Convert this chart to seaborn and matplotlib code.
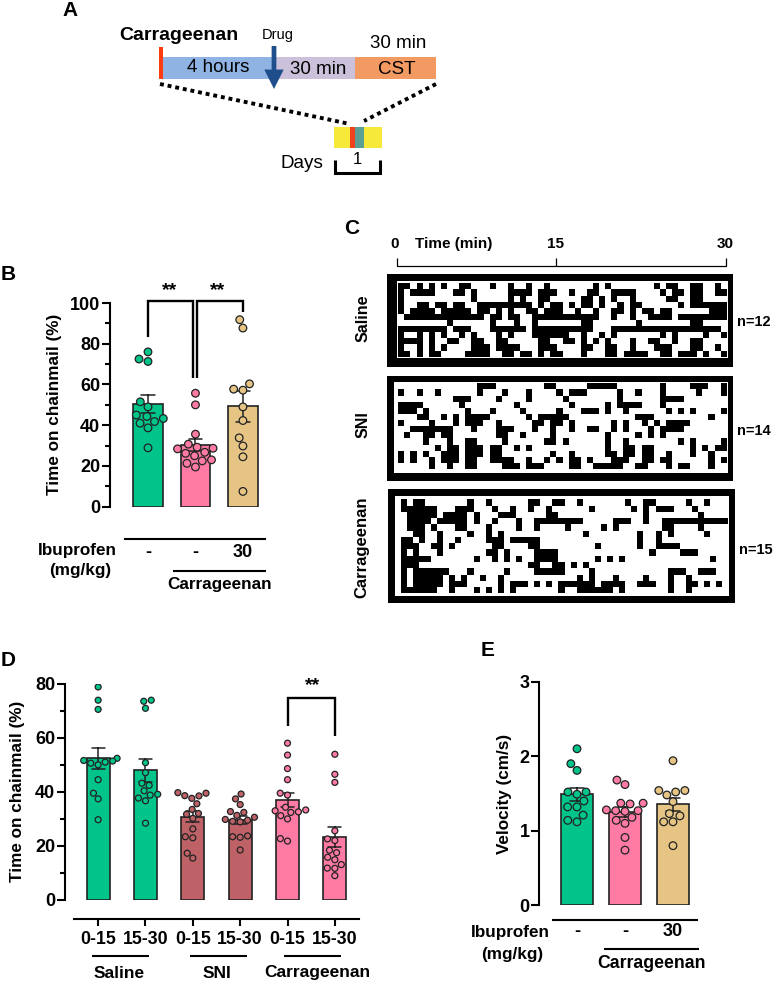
import numpy as np
import pandas as pd
import matplotlib
matplotlib.use('Agg')
import matplotlib.pyplot as plt
from matplotlib.patches import Rectangle
from matplotlib.ticker import MultipleLocator
import seaborn as sns

W, H = 775, 985

GREEN = '#00C48A'
PINK = '#FF7BA4'
TAN = '#E6C584'
BROWN = '#BE6268'
DARK = '#222222'

# panel B, time on chainmail (%)
b_groups = ['Saline', 'SNI', 'Ibu30']
b_ticks = ['-', '-', '30']
b_saline = [76, 72.5, 71.3, 51.5, 49, 45, 44.3, 43.3, 41.8, 41, 38.7, 28.9]
b_sni = [55.7, 50, 35.6, 30.7, 29.2, 28.7, 28.4, 26.7, 26.2, 25, 23, 22.5, 21.3, 19.5]
b_ibu = [91.8, 87.7, 60.3, 57.7, 57.2, 49, 42.3, 33.8, 29.8, 24.5, 7.5]

# panel D, time on chainmail (%) by period
d_groups = ['Sal1', 'Sal2', 'SNI1', 'SNI2', 'Car1', 'Car2']
d_ticks = ['0-15', '15-30', '0-15', '15-30', '0-15', '15-30']
d_sal1 = [78.8, 73.9, 70.5, 52.4, 51.6, 51.4, 51, 50.6, 50, 44.5, 39.5, 37.4, 29.7]
d_sal2 = [73.9, 73.5, 70.9, 50.8, 47.1, 43.2, 42.4, 40.4, 39.1, 38.8, 37.7, 36.7, 28.4]
d_sni1 = [39.7, 39.5, 38.6, 38.5, 37.6, 35.6, 33.5, 32, 31.7, 30.2, 26.3, 23.4, 23, 17.3, 15.5]
d_sni2 = [39.2, 37.4, 35.3, 32.7, 32.4, 31.3, 30.6, 29.8, 29.5, 29.1, 28.9, 23.7, 23.4, 23.2, 18.5]
d_car1 = [58, 53.6, 48.6, 44.5, 39.5, 38.8, 34.3, 33.3, 33, 32.6, 32.4, 31.2, 30, 22.7, 21.8]
d_car2 = [53.9, 46.5, 43.5, 25.6, 22.6, 22, 18.4, 17.5, 15.8, 14.9, 13.1, 11.8, 11.7, 9]

# panel E, velocity (cm/s)
e_saline = [2.10, 1.90, 1.81, 1.52, 1.52, 1.49, 1.40, 1.32, 1.32, 1.21, 1.14, 1.12]
e_sni = [1.68, 1.62, 1.37, 1.37, 1.36, 1.28, 1.27, 1.27, 1.26, 1.18, 1.14, 1.10, 0.91, 0.74]
e_ibu = [1.94, 1.54, 1.54, 1.52, 1.48, 1.39, 1.23, 1.20, 1.12, 1.12, 0.80]

# panel C, time bins spent on chainmail per animal
n_bins = 54
raster_saline = [
    [0, 1, 3, 5, 7, 10, 11, 15, 18, 21, 24, 32, 34, 42, 44, 45, 48, 49, 52],
    [0, 2, 3, 4, 5, 9, 10, 12, 18, 19, 20, 21, 23, 24, 25, 28, 31, 32, 35, 36, 37, 38, 43, 45, 46, 48, 49, 52, 53],
    [0, 12, 18, 20, 23, 24, 30, 31, 33, 35, 38, 44, 45, 48, 49],
    [0, 3, 4, 6, 7, 9, 10, 13, 14, 15, 16, 17, 18, 19, 20, 21, 23, 25, 26, 28, 30, 31, 33, 36, 38, 39, 46, 48, 49, 50, 51, 52, 53],
    [0, 2, 3, 4, 5, 7, 8, 9, 10, 11, 13, 14, 16, 18, 21, 22, 24, 25, 26, 29, 32, 35, 36, 38, 40, 41, 43, 44, 51, 52, 53],
    [1, 2, 3, 4, 5, 6, 7, 8, 9, 10, 11, 12, 13, 15, 16, 18, 19, 22, 23, 24, 25, 26, 27, 28, 29, 30, 31, 32, 35, 38, 41, 42, 43, 44, 46, 47, 48, 49, 50, 51, 52, 53],
    [8, 15, 19, 22, 30, 31, 39, 48, 49],
    [0, 1, 2, 3, 4, 5, 6, 7, 9, 10, 11, 15, 16, 17, 18, 19, 20, 22, 23, 24, 25, 26, 27, 28, 29, 30, 31, 35, 36, 37, 38, 39, 40, 41, 42, 43, 44, 45, 46, 47, 48, 49, 50, 51, 52],
    [0, 3, 5, 7, 10, 12, 16, 18, 22, 23, 24, 25, 26, 27, 30, 33, 35, 43, 45, 50, 53],
    [0, 1, 2, 3, 5, 8, 9, 12, 13, 16, 17, 23, 24, 27, 28, 30, 32, 34, 38, 41, 42, 45, 48, 49],
    [0, 3, 5, 7, 12, 13, 14, 16, 17, 18, 19, 23, 24, 25, 30, 31, 34, 35, 38, 42, 43, 44, 48, 49, 52],
    [0, 1, 3, 5, 6, 11, 12, 13, 14, 17, 18, 20, 21, 23, 25, 26, 30, 34, 35, 37, 38, 39, 40, 43, 44, 46, 47, 48, 50, 53],
]
raster_sni = [
    [13, 14, 15, 24, 25, 31, 32, 33, 34, 35, 43, 48, 49, 50, 53],
    [0, 3, 6, 13, 17, 21, 26, 28, 29, 30, 36, 39, 43, 49, 53],
    [9, 10, 11, 16, 21, 27, 36, 43, 44, 45, 46],
    [0, 1, 2, 3, 10, 19, 28, 34, 36, 37, 38, 39, 43],
    [0, 1, 2, 4, 11, 15, 20, 26, 30, 31, 32, 34, 37, 44, 46, 48, 53],
    [3, 4, 7, 9, 11, 12, 13, 14, 21, 23, 24, 25, 26, 27, 39, 40, 41, 51],
    [0, 5, 9, 11, 12, 13, 16, 22, 23, 25, 26, 28, 35, 37, 40, 42, 44, 45, 46, 47],
    [2, 3, 4, 5, 6, 7, 8, 12, 16, 17, 18, 22, 25, 28, 31, 32, 35, 37, 41, 43, 44, 45, 46],
    [1, 4, 5, 7, 8, 16, 17, 20, 25, 34, 39, 41, 43],
    [4, 8, 11, 12, 17, 24, 25, 27, 34, 37, 46, 48, 53],
    [6, 8, 9, 11, 12, 13, 15, 16, 19, 21, 34, 37, 38, 40, 41, 48, 50, 52, 53],
    [0, 2, 4, 7, 8, 9, 11, 12, 13, 15, 16, 25, 28, 34, 35, 37, 38, 40, 41, 44, 48, 51],
    [0, 2, 5, 7, 8, 9, 11, 12, 15, 16, 17, 18, 21, 24, 26, 28, 29, 31, 35, 36, 37, 40, 41, 43, 44, 51, 53],
    [5, 8, 11, 12, 17, 18, 19, 21, 22, 23, 28, 29, 32, 33, 34, 35, 36, 39, 40, 44, 46, 47, 51],
]
raster_car = [
    [0, 2, 3, 11, 14, 21, 22, 25, 26, 29, 37, 40, 41, 47, 50],
    [0, 1, 2, 3, 4, 5, 9, 10, 11, 15, 18, 21, 24, 31, 38, 40, 42, 43, 44, 48],
    [1, 2, 3, 4, 5, 7, 8, 9, 10, 12, 16, 17, 18, 24, 25, 40, 49],
    [1, 2, 3, 4, 6, 7, 8, 9, 10, 12, 15, 19, 22, 23, 24, 25, 26, 27, 28, 29, 35, 36, 37, 40, 43, 44, 45, 46, 47, 48, 49, 50, 51, 52, 53],
    [1, 2, 3, 5, 9, 10, 14, 19, 22, 27, 33, 35, 43, 44, 49],
    [2, 3, 6, 11, 14, 16, 30, 39, 42, 44, 50],
    [0, 1, 3, 6, 9, 14, 15, 16, 18, 19, 20, 21, 22, 39, 42],
    [0, 1, 2, 5, 6, 8, 15, 16, 21, 22, 32, 39, 42, 43, 44, 45],
    [0, 2, 6, 14, 15, 17, 22, 23, 24, 25, 41, 46, 47, 48],
    [0, 1, 2, 3, 4, 12, 15, 17, 19, 22, 23, 24, 25, 32, 34, 36, 51],
    [0, 1, 2, 21, 22, 25, 26, 28, 30],
    [0, 2, 3, 4, 5, 6, 7, 11, 17, 22, 23, 24, 25, 26, 31, 44, 45, 46, 49, 50, 51],
    [0, 2, 3, 4, 5, 6, 8, 10, 13, 16, 29, 31, 35, 40, 44, 47],
    [0, 2, 3, 4, 5, 6, 8, 9, 10, 16, 18, 19, 20, 22, 24, 26, 27, 28, 29, 30, 31, 33, 34, 35, 36, 39, 40, 41, 44, 47, 48, 50, 52],
    [0, 1, 2, 3, 4, 5, 8, 12, 14, 16, 18, 26, 29, 30, 31, 32, 33, 34, 36, 44, 47],
]

sns.set_theme(style='ticks')
plt.rcParams['font.family'] = ['Liberation Sans', 'DejaVu Sans']
plt.rcParams['font.weight'] = 'bold'
plt.rcParams['axes.labelweight'] = 'bold'
plt.rcParams['axes.edgecolor'] = 'black'
plt.rcParams['xtick.color'] = 'black'
plt.rcParams['ytick.color'] = 'black'
plt.rcParams['text.color'] = 'black'
plt.rcParams['axes.labelcolor'] = 'black'


def box(left, top, right, bottom):
    # pixel box of the reference -> figure fraction
    return [left / W, 1 - bottom / H, (right - left) / W, (bottom - top) / H]


def long_table(names, columns):
    rows = [(n, v) for n, col in zip(names, columns) for v in col]
    return pd.DataFrame(rows, columns=['group', 'value'])


def bar_panel(rect, df, order, colors, xlim, ylim, width, dot, ylabel, label_x):
    ax = fig.add_axes(box(*rect))
    ax.patch.set_visible(False)
    sns.barplot(data=df, x='group', y='value', hue='group', order=order, hue_order=order,
                palette=colors, saturation=1, legend=False, errorbar='se', capsize=0.28, width=width,
                edgecolor=DARK, linewidth=1.2, ax=ax,
                err_kws={'color': DARK, 'linewidth': 1.1})
    sns.swarmplot(data=df, x='group', y='value', hue='group', order=order, hue_order=order,
                  palette=colors, legend=False, size=dot, edgecolor=DARK, linewidth=0.9, ax=ax)
    ax.set_xlim(*xlim)
    ax.set_ylim(*ylim)
    ax.set_xlabel('')
    ax.set_ylabel(ylabel, fontsize=12.3)
    ax.yaxis.set_label_coords((label_x - rect[0]) / (rect[2] - rect[0]), 0.5)
    sns.despine(ax=ax)
    ax.spines['left'].set_linewidth(1.5)
    ax.spines['bottom'].set_linewidth(1.5)
    ax.tick_params(axis='y', width=1.5, length=6, labelsize=13, pad=1)
    return ax


fig = plt.figure(figsize=(W / 100, H / 100), dpi=100, facecolor='white')

# everything that is not a data panel lives on one pixel-coordinate layer
ov = fig.add_axes([0, 0, 1, 1], zorder=-1)
ov.set_xlim(0, W)
ov.set_ylim(H, 0)
ov.set_axis_off()


def line(xs, ys, lw=1.5, color='black', **kw):
    ov.plot(xs, ys, color=color, lw=lw, solid_joinstyle='miter', solid_capstyle='butt', **kw)


def label(x, y, s, size=12.3, ha='center', weight='bold', rotation=0):
    ov.text(x, y, s, fontsize=size, ha=ha, va='center', weight=weight, rotation=rotation)


def block(x0, y0, x1, y1, color):
    ov.add_patch(Rectangle((x0, y0), x1 - x0, y1 - y0, facecolor=color, edgecolor='none'))


for s, x, y in [('A', 70, 10), ('B', 8, 275), ('C', 352, 229), ('D', 8, 661), ('E', 488, 650)]:
    label(x, y, s, size=15)

# panel A timeline
block(163, 57, 273, 79, '#8FB4E3')
block(273, 57, 355, 79, '#CCC1DA')
block(355, 57, 436, 79, '#F29A62')
block(158.7, 47, 163, 79, '#FF3B10')
ov.annotate('', xy=(274, 89), xytext=(274, 46),
            arrowprops=dict(width=3.4, headwidth=14, headlength=14, color='#1F4E8C', lw=0))
label(119, 36, 'Carrageenan', size=14, ha='left')
label(278, 35, 'Drug', size=10.5, weight='normal')
label(218, 68, '4 hours', size=13.5, weight='normal')
label(318, 70, '30 min', size=13.5, weight='normal')
label(397, 69, 'CST', size=13.5, weight='normal')
label(398, 44, '30 min', size=13.5, weight='normal')
ov.plot([160, 350], [84, 124], color='black', lw=2.8, ls=(0, (1, 1)))
ov.plot([436, 364], [84, 121], color='black', lw=2.8, ls=(0, (1, 1)))
block(334, 127, 382, 148, '#F6E93A')
block(350, 127, 355, 148, '#F0421C')
block(355, 127, 364, 148, '#5B9E94')
label(301.5, 164, 'Days', size=13.6, weight='normal')
label(357, 160, '1', size=12, weight='normal')
line([335, 335, 380, 380], [160, 173, 173, 160], lw=2.2)

# panel B
b_df = long_table(b_groups, [b_saline, b_sni, b_ibu])
ax_b = bar_panel((110, 303, 270, 506.7), b_df, b_groups, [GREEN, PINK, TAN],
                 (-0.8, 2.57), (0, 100), 0.63, 5.5, 'Time on chainmail (%)', 62)
ax_b.yaxis.set_major_locator(MultipleLocator(20))
ax_b.yaxis.set_minor_locator(MultipleLocator(10))
ax_b.tick_params(axis='y', which='minor', width=1.5, length=3.5)
ax_b.spines['bottom'].set_position(('outward', 23.5))
ax_b.spines['bottom'].set_bounds(-0.48, 2.47)
ax_b.set_xticks(range(3), b_ticks)
ax_b.tick_params(axis='x', length=0, labelsize=13, pad=3)
line([173, 266], [571, 571])
label(117, 550, 'Ibuprofen', ha='right')
label(80, 571, '(mg/kg)')
label(220, 585, 'Carrageenan')
line([148, 148, 193, 193], [337, 301, 301, 378], lw=1.7)
line([197, 197, 243, 243], [378, 301, 301, 312], lw=1.7)
label(170, 291, '**', size=14)
label(218, 291, '**', size=14)

# panel D
d_df = long_table(d_groups, [d_sal1, d_sal2, d_sni1, d_sni2, d_car1, d_car2])
ax_d = bar_panel((65, 683.7, 359, 900), d_df, d_groups, [GREEN, GREEN, BROWN, BROWN, PINK, PINK],
                 (-0.7, 5.51), (0, 80), 0.48, 4.3, 'Time on chainmail (%)', 25)
ax_d.yaxis.set_major_locator(MultipleLocator(20))
ax_d.yaxis.set_minor_locator(MultipleLocator(10))
ax_d.tick_params(axis='y', which='minor', width=1.5, length=3.5)
ax_d.spines['bottom'].set_position(('outward', 14))
ax_d.spines['bottom'].set_bounds(-0.52, 5.51)
ax_d.set_xticks(range(6), d_ticks)
ax_d.tick_params(axis='x', length=5, width=1.5, labelsize=12.8, pad=3)
for x0, x1, s, xc in [(92, 149, 'Saline', 119), (190, 247, 'SNI', 217), (284, 341, 'Carrageenan', 317)]:
    line([x0, x1], [956, 956])
    label(xc, 973, s, size=12.5)
line([287.5, 287.5, 334.7, 334.7], [726, 697.7, 697.7, 736], lw=1.7)
label(313, 686, '**', size=14)

# panel E
e_df = long_table(b_groups, [e_saline, e_sni, e_ibu])
ax_e = bar_panel((539.3, 681.7, 697, 905.3), e_df, b_groups, [GREEN, PINK, TAN],
                 (-0.785, 2.5), (0, 3), 0.65, 5.5, 'Velocity (cm/s)', 512)
ax_e.yaxis.set_major_locator(MultipleLocator(1))
ax_e.spines['bottom'].set_position(('outward', 10.5))
ax_e.spines['bottom'].set_bounds(-0.5, 2.5)
ax_e.set_xticks(range(3), b_ticks)
ax_e.tick_params(axis='x', length=0, labelsize=13, pad=2)
line([604, 699], [949, 949])
label(550, 933, 'Ibuprofen', ha='right')
label(512, 955, '(mg/kg)')
label(651, 964, 'Carrageenan', size=12.7)

# panel C rasters
line([396.7, 396.7, 726, 726], [258, 265.7, 265.7, 258], lw=0.9)
line([556, 556], [258, 265.7], lw=0.9)
label(395, 244, '0', size=11)
label(454, 244, 'Time (min)', size=11)
label(555, 244, '15', size=11)
label(725, 244, '30', size=11)

raster_panels = [
    (raster_saline, (386.7, 274, 732.7, 366.7), (397, 281, 728.3, 358.3), (398.3, 283.3, 727, 356.7)),
    (raster_sni, (386.7, 376, 732.7, 480.7), (394, 381.7, 728.3, 473.3), (398.3, 383.3, 726.7, 469)),
    (raster_car, (388.3, 489.3, 735, 603.3), (395, 496, 729.3, 596), (400.7, 499.3, 728.3, 593.3)),
]
for rows, outer, inner, cells in raster_panels:
    block(*outer, 'black')
    block(*inner, 'white')
    grid = np.zeros((len(rows), n_bins))
    for i, on in enumerate(rows):
        grid[i, on] = 1
    ax_c = fig.add_axes(box(*cells))
    sns.heatmap(grid, cmap=['white', 'black'], vmin=0, vmax=1, cbar=False,
                xticklabels=False, yticklabels=False, ax=ax_c)

label(362.7, 318, 'Saline', size=11.5, rotation=90)
label(362.7, 425, 'SNI', size=11.5, rotation=90)
label(362, 547, 'Carrageenan', size=12, rotation=90)
label(736.7, 322, 'n=12', size=10.5, ha='left')
label(736.7, 431, 'n=14', size=10.5, ha='left')
label(739, 550, 'n=15', size=10.5, ha='left')

fig.savefig('out.png', dpi=100)
